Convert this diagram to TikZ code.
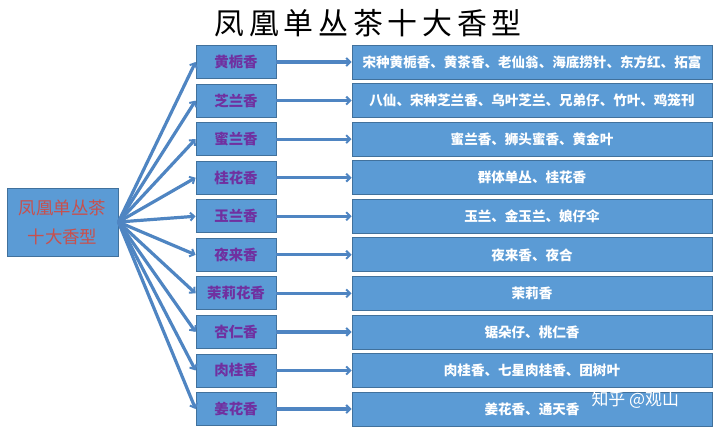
\documentclass[tikz,border=0pt]{standalone}
\usepackage{fontspec}
\newfontfamily\cjk{Noto Sans CJK SC}
\newfontfamily\cjktitle{Noto Sans CJK SC}[LetterSpace=16]
\usetikzlibrary{arrows.meta}
\definecolor{boxfill}{HTML}{5B9BD5}
\definecolor{boxline}{HTML}{41719C}
\definecolor{arrowc}{HTML}{4F85C2}
\definecolor{midtext}{HTML}{7030A0}
\definecolor{roottext}{HTML}{C8504D}
\tikzset{
  blue box/.style={draw=boxline, line width=0.8bp, fill=boxfill, inner sep=0pt},
  rootbox/.style={blue box, minimum width=111bp, minimum height=68bp, align=center,
    font=\cjk\fontsize{17.5}{29}\selectfont, text=roottext},
  midbox/.style={blue box, minimum width=80bp, minimum height=33bp,
    font=\cjk\bfseries\fontsize{14.5}{15}\selectfont, text=midtext},
  rightbox/.style={blue box, minimum width=360bp, minimum height=34bp,
    font=\cjk\bfseries\fontsize{13.6}{14}\selectfont, text=white},
  fanarrow/.style={draw=arrowc, line width=3.2bp, -{Straight Barb[length=4bp,width=8bp,line width=2bp]}},
}
\begin{document}
\begin{tikzpicture}[x=1bp,y=-1bp]
\useasboundingbox (0,0) rectangle (720,429);
\node[font=\cjktitle\fontsize{30}{30}\selectfont, text=black] (title) at (368,23) {凤凰单丛茶十大香型};
\node[rootbox] (root) at (62.5,222) {凤凰单丛茶\\十大香型};
\foreach \i/\m/\r in {
  1/黄栀香/{宋种黄栀香、黄茶香、老仙翁、海底捞针、东方红、拓富},
  2/芝兰香/{八仙、宋种芝兰香、乌叶芝兰、兄弟仔、竹叶、鸡笼刊},
  3/蜜兰香/{蜜兰香、狮头蜜香、黄金叶},
  4/桂花香/{群体单丛、桂花香},
  5/玉兰香/{玉兰、金玉兰、娘仔伞},
  6/夜来香/{夜来香、夜合},
  7/茉莉花香/{茉莉香},
  8/杏仁香/{锯朵仔、桃仁香},
  9/肉桂香/{肉桂香、七星肉桂香、团树叶},
  10/姜花香/{姜花香、通天香}}{
  \pgfmathsetmacro{\yy}{62+38.56*(\i-1)}
  \node[midbox] (m\i) at (236,\yy) {\m};
  \node[rightbox] (r\i) at (532,\yy) {\r};
  \draw[fanarrow] (root.east) -- (m\i.west);
  \draw[fanarrow] (m\i.east) -- (r\i.west);
}
\node[font=\cjk\fontsize{17}{17}\selectfont, text=white, anchor=west] (mark) at (588,400) {知乎 @观山};
\end{tikzpicture}
\end{document}
